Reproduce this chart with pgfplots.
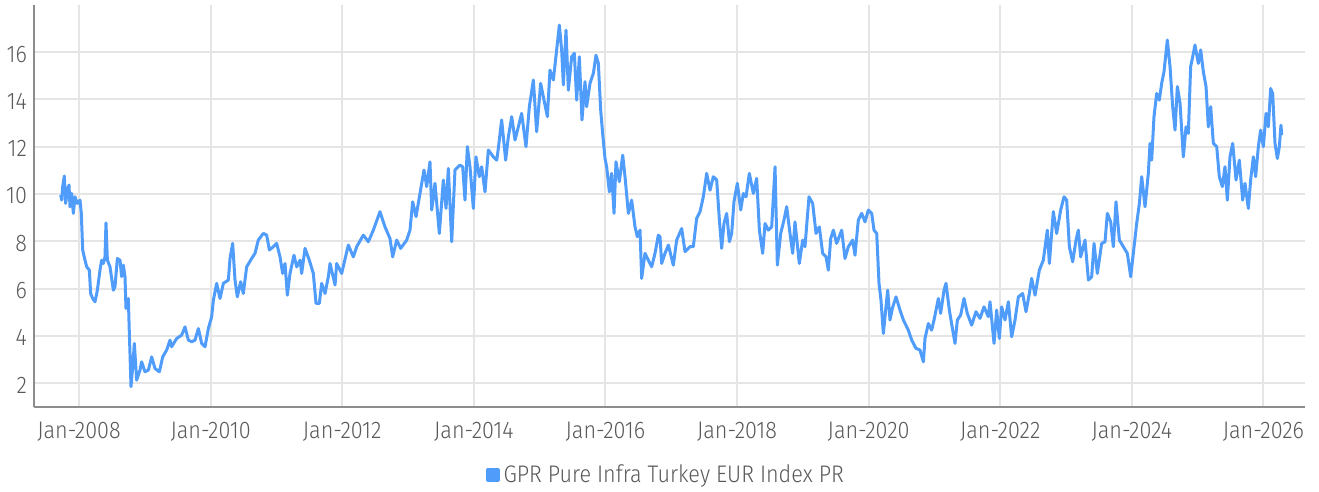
\documentclass[border=0pt]{standalone}
\usepackage{pgfplots}
\pgfplotsset{compat=1.18}
\usepackage{fontspec}
\setmainfont{Fira Sans Light}[FakeStretch=0.9]
\definecolor{linecolor}{HTML}{4F9CFA}
\definecolor{tickgray}{HTML}{595959}
\definecolor{gridgray}{HTML}{E5E5E5}
\definecolor{axisgray}{HTML}{8C8C8C}
\begin{document}
\begin{tikzpicture}
\begin{axis}[
  scale only axis, width=635.5pt, height=201pt,
  xmin=2007.316, xmax=2026.632, ymin=1, ymax=18,
  axis x line=bottom, axis y line=left,
  axis line style={-, draw=axisgray, line width=0.85pt},
  xtick={2008,2010,...,2026},
  xticklabels={Jan-2008,Jan-2010,Jan-2012,Jan-2014,Jan-2016,Jan-2018,Jan-2020,Jan-2022,Jan-2024,Jan-2026},
  ytick={2,4,...,16},
  grid=major, major grid style={draw=gridgray, line width=1pt},
  major tick length=0pt,
  tick label style={font=\fontsize{12}{14}\selectfont, text=tickgray},
  xticklabel style={yshift=-4pt},
  yticklabel style={yshift=-1pt},
  /pgf/number format/assume math mode=true,
  legend style={at={(axis description cs:0.498,-0.17)}, anchor=center, draw=none, fill=none,
    font=\fontsize{12}{14}\selectfont, text=tickgray, inner sep=0pt},
]
\addplot[color=linecolor, line width=1.5pt, line join=round, mark=none,
  legend image code/.code={\fill[linecolor] (0pt,-2.6pt) rectangle (5.2pt,2.6pt);}]
coordinates {
(2007.721,9.95)(2007.737,9.74)(2007.752,10.31)(2007.777,10.76)(2007.797,9.60)(2007.823,10.16)(2007.848,10.38)(2007.863,9.46)(2007.889,10.02)(2007.914,9.18)(2007.939,9.88)(2007.975,9.60)(2008.015,9.74)(2008.035,9.18)(2008.056,7.63)(2008.091,7.20)(2008.117,6.92)(2008.157,6.78)(2008.177,5.79)(2008.208,5.58)(2008.243,5.44)(2008.279,5.93)(2008.319,6.78)(2008.344,7.20)(2008.370,7.06)(2008.395,7.34)(2008.410,8.78)(2008.431,7.20)(2008.471,6.92)(2008.522,5.93)(2008.547,6.08)(2008.583,7.27)(2008.623,7.20)(2008.648,6.50)(2008.674,6.99)(2008.699,6.50)(2008.714,5.16)(2008.750,5.58)(2008.765,4.10)(2008.775,3.25)(2008.790,1.85)(2008.816,2.69)(2008.841,3.68)(2008.876,2.13)(2008.927,2.55)(2008.952,2.90)(2009.003,2.48)(2009.054,2.55)(2009.104,3.11)(2009.155,2.62)(2009.221,2.48)(2009.272,3.11)(2009.332,3.40)(2009.383,3.82)(2009.408,3.54)(2009.484,3.89)(2009.560,4.03)(2009.611,4.38)(2009.662,3.82)(2009.712,3.75)(2009.763,3.82)(2009.814,4.31)(2009.864,3.68)(2009.915,3.54)(2009.966,4.31)(2010.016,4.81)(2010.042,5.51)(2010.092,6.22)(2010.143,5.58)(2010.194,6.22)(2010.270,6.36)(2010.295,7.27)(2010.335,7.91)(2010.371,6.36)(2010.406,5.65)(2010.457,6.29)(2010.497,5.79)(2010.548,6.92)(2010.624,7.27)(2010.675,7.49)(2010.725,8.05)(2010.801,8.33)(2010.852,8.26)(2010.893,7.63)(2010.953,7.77)(2011.004,7.91)(2011.055,7.34)(2011.095,6.64)(2011.131,7.06)(2011.166,5.72)(2011.207,6.64)(2011.267,7.41)(2011.308,6.92)(2011.359,7.20)(2011.384,6.64)(2011.435,7.70)(2011.500,7.20)(2011.561,6.64)(2011.602,5.37)(2011.652,5.37)(2011.688,6.22)(2011.739,5.79)(2011.789,6.50)
(2011.815,7.06)(2011.891,6.15)(2011.916,7.06)(2011.992,6.64)(2012.093,7.84)(2012.169,7.34)(2012.220,7.77)(2012.321,8.26)(2012.397,7.98)(2012.473,8.47)(2012.574,9.25)(2012.650,8.61)(2012.726,8.12)(2012.767,7.34)(2012.828,8.05)(2012.889,7.70)(2012.980,8.05)(2013.030,8.47)(2013.071,9.67)(2013.122,9.04)(2013.182,10.02)(2013.243,11.01)(2013.284,10.31)(2013.334,11.36)(2013.360,9.32)(2013.410,10.45)(2013.476,8.33)(2013.537,10.59)(2013.578,9.39)(2013.613,11.08)(2013.664,7.98)(2013.714,11.01)(2013.790,11.22)(2013.831,11.15)(2013.866,9.74)(2013.902,12.00)(2013.942,11.15)(2013.993,9.39)(2014.033,11.57)(2014.084,10.73)(2014.120,11.15)(2014.170,10.09)(2014.221,11.86)(2014.297,11.57)(2014.348,11.43)(2014.373,11.93)(2014.423,13.13)(2014.484,11.43)(2014.525,12.42)(2014.576,13.27)(2014.626,12.28)(2014.677,12.84)(2014.727,13.41)(2014.793,12.00)(2014.844,13.69)(2014.905,14.82)(2014.955,12.63)(2015.016,14.68)(2015.067,13.97)(2015.118,13.27)(2015.158,15.24)(2015.209,14.82)(2015.259,16.09)(2015.300,17.14)(2015.335,16.09)(2015.361,14.61)(2015.401,16.93)(2015.437,14.39)(2015.487,15.80)(2015.528,15.95)(2015.563,13.97)(2015.604,15.80)(2015.644,13.13)(2015.690,14.75)(2015.715,13.69)(2015.766,14.68)(2015.817,15.10)(2015.857,15.87)(2015.893,15.52)(2015.928,13.55)(2015.958,12.56)(2015.994,11.50)(2016.019,11.15)(2016.060,10.09)(2016.095,10.87)(2016.131,9.18)(2016.161,11.36)(2016.212,10.52)(2016.263,11.64)(2016.298,10.73)(2016.349,9.18)(2016.399,9.74)(2016.450,8.61)(2016.485,8.19)(2016.526,8.47)(2016.551,6.43)(2016.602,7.49)(2016.652,7.20)(2016.703,6.92)(2016.754,7.49)(2016.804,8.26)
(2016.830,8.19)(2016.855,7.06)(2016.906,7.49)(2016.957,7.84)(2017.032,6.99)(2017.083,8.05)(2017.159,8.54)(2017.210,7.56)(2017.286,7.77)(2017.336,7.77)(2017.387,8.97)(2017.438,9.25)(2017.488,9.88)(2017.539,10.87)(2017.590,10.16)(2017.640,10.73)(2017.691,10.59)(2017.732,8.90)(2017.767,7.70)(2017.802,8.75)(2017.843,9.18)(2017.884,7.98)(2017.919,8.33)(2017.954,9.67)(2018.005,10.45)(2018.056,9.32)(2018.096,10.02)(2018.137,9.88)(2018.187,10.87)(2018.248,10.02)(2018.299,10.66)(2018.340,8.47)(2018.390,7.49)(2018.426,8.75)(2018.476,8.47)(2018.527,8.61)(2018.578,11.15)(2018.613,6.99)(2018.664,8.33)(2018.714,8.90)(2018.755,9.46)(2018.805,8.33)(2018.846,7.49)(2018.881,8.82)(2018.947,7.06)(2018.998,8.05)(2019.033,7.77)(2019.094,9.88)(2019.150,9.60)(2019.201,8.33)(2019.251,8.61)(2019.302,7.49)(2019.353,7.34)(2019.388,6.78)(2019.424,8.12)(2019.464,8.47)(2019.515,7.91)(2019.591,8.47)(2019.641,7.27)(2019.692,7.77)(2019.758,8.05)(2019.793,7.41)(2019.844,8.90)(2019.895,9.18)(2019.945,8.82)(2019.996,9.32)(2020.047,9.18)(2020.082,8.47)(2020.123,8.33)(2020.158,6.22)(2020.188,5.51)(2020.224,4.10)(2020.259,5.09)(2020.290,5.93)(2020.325,4.67)(2020.361,5.16)(2020.416,5.65)(2020.477,5.09)(2020.528,4.67)(2020.604,4.24)(2020.655,3.82)(2020.720,3.47)(2020.781,3.40)(2020.832,2.90)(2020.857,3.89)(2020.908,4.52)(2020.958,4.24)(2020.994,4.67)(2021.060,5.58)(2021.095,4.95)(2021.146,5.93)(2021.176,6.22)(2021.227,5.09)(2021.278,4.24)(2021.313,3.68)(2021.349,4.67)(2021.399,4.88)(2021.450,5.58)(2021.500,4.95)(2021.566,4.45)(2021.632,5.02)(2021.693,4.74)(2021.754,5.23)(2021.819,4.81)
(2021.845,5.44)(2021.906,3.68)(2021.946,5.09)(2021.987,3.89)(2022.022,5.23)(2022.073,4.67)(2022.124,5.44)(2022.174,3.96)(2022.225,4.67)(2022.276,5.65)(2022.341,5.79)(2022.392,5.02)(2022.443,5.79)(2022.478,6.43)(2022.529,5.72)(2022.595,6.78)(2022.655,7.20)(2022.716,8.47)(2022.747,7.06)(2022.807,9.25)(2022.858,8.33)(2022.919,9.32)(2022.970,9.88)(2023.010,9.74)(2023.051,7.77)(2023.101,7.13)(2023.152,8.05)(2023.187,8.47)(2023.223,7.34)(2023.289,8.05)(2023.340,6.36)(2023.390,6.50)(2023.426,7.91)(2023.476,6.64)(2023.542,7.91)(2023.593,7.98)(2023.628,9.18)(2023.679,8.82)(2023.719,7.77)(2023.760,9.67)(2023.811,8.05)(2023.871,7.77)(2023.932,7.49)(2023.983,6.50)(2024.023,7.49)(2024.074,8.75)(2024.115,9.60)(2024.150,10.73)(2024.201,9.46)(2024.251,10.87)(2024.277,12.14)(2024.302,11.43)(2024.337,13.27)(2024.378,14.25)(2024.418,13.97)(2024.454,14.68)(2024.489,15.17)(2024.540,16.51)(2024.581,15.38)(2024.621,13.69)(2024.657,12.70)(2024.692,14.54)(2024.733,13.83)(2024.783,11.57)(2024.824,12.84)(2024.859,12.56)(2024.894,15.38)(2024.925,15.80)(2024.960,16.30)(2025.011,15.52)(2025.047,16.09)(2025.087,15.17)(2025.128,14.54)(2025.163,12.84)(2025.199,13.69)(2025.239,12.14)(2025.290,12.00)(2025.330,10.73)(2025.376,10.31)(2025.416,11.15)(2025.452,9.74)(2025.492,11.57)(2025.533,12.14)(2025.584,10.59)(2025.634,11.43)(2025.685,9.74)(2025.720,10.45)(2025.771,9.39)(2025.806,10.59)(2025.847,11.57)(2025.882,10.73)(2025.923,12.00)(2025.958,12.70)(2025.999,12.00)(2026.040,13.41)(2026.075,12.84)(2026.110,14.46)(2026.141,14.25)(2026.176,12.14)(2026.212,11.50)(2026.242,12.00)(2026.267,12.91)(2026.278,12.49)
};
\addlegendentry{GPR Pure Infra Turkey EUR Index PR}
\end{axis}
\pgfresetboundingbox
\path (-17pt,-42.15pt) rectangle (642.5pt,203.4pt);
\end{tikzpicture}
\end{document}
